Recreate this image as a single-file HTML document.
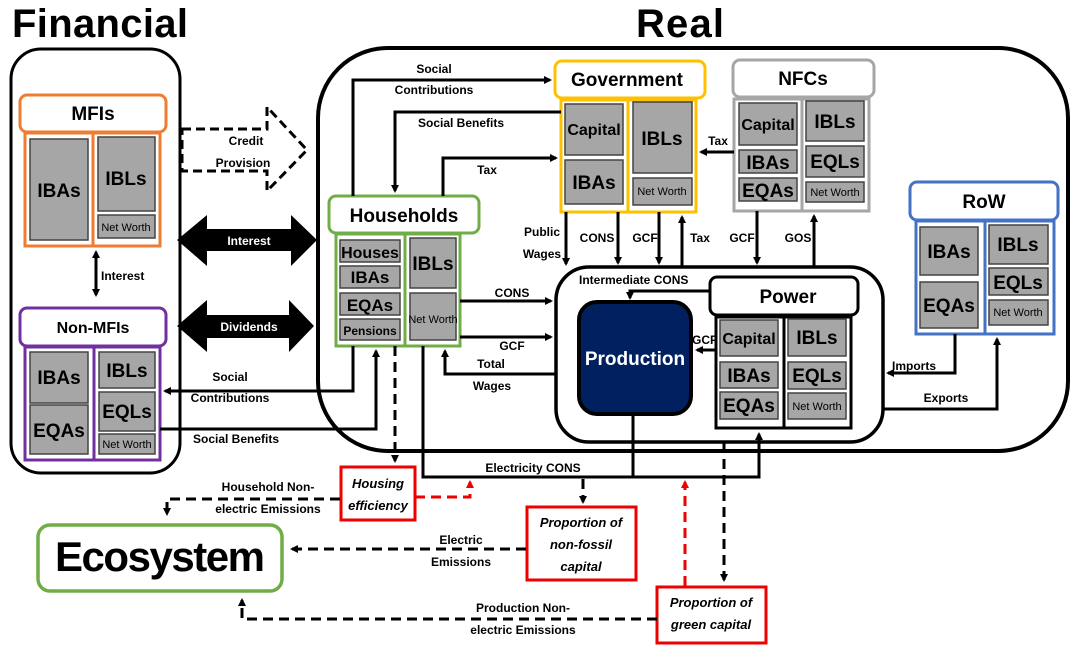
<!DOCTYPE html>
<html><head><meta charset="utf-8"><style>
html,body{margin:0;padding:0;background:#fff}
svg{display:block}
text{font-family:"Liberation Sans",sans-serif;font-weight:bold}
.g{fill:#a6a6a6;stroke:#444;stroke-width:1.5}
.l{stroke:#000;stroke-width:3;fill:none}
.d{stroke:#000;stroke-width:3;fill:none;stroke-dasharray:10,6}
.r{stroke:#e00;stroke-width:3;fill:none;stroke-dasharray:10,6}
.t{font-size:12px}
.bx{font-size:19px}
.nw{font-size:11px;font-weight:normal}
.it{font-style:italic;font-size:13px}
</style></head><body>
<svg width="1077" height="654" viewBox="0 0 1077 654" xmlns="http://www.w3.org/2000/svg">
<defs>
<marker id="a" markerWidth="8" markerHeight="8" refX="6" refY="4" orient="auto" markerUnits="userSpaceOnUse"><path d="M0,0 L8,4 L0,8 z" fill="#000"/></marker>
<marker id="ar" markerWidth="8" markerHeight="8" refX="6" refY="4" orient="auto" markerUnits="userSpaceOnUse"><path d="M0,0 L8,4 L0,8 z" fill="#e00"/></marker>
</defs>
<text x="12" y="37" font-size="40" textLength="176">Financial</text>
<text x="636" y="37" font-size="40" textLength="88">Real</text>
<rect x="11" y="49" width="169" height="424" rx="30" fill="none" stroke="#000" stroke-width="3"/>
<rect x="318" y="48" width="750" height="403" rx="70" fill="none" stroke="#000" stroke-width="4"/>

<!-- MFIs -->
<rect x="20" y="95" width="146" height="37" rx="7" fill="#fff" stroke="#ED7D31" stroke-width="3"/>
<text x="93" y="120" font-size="19" text-anchor="middle">MFIs</text>
<rect x="25" y="133" width="135" height="113" fill="none" stroke="#ED7D31" stroke-width="3"/>
<line x1="93" y1="133" x2="93" y2="246" stroke="#ED7D31" stroke-width="3"/>
<rect class="g" x="30" y="139" width="58" height="101"/><text class="bx" x="59" y="197" text-anchor="middle">IBAs</text>
<rect class="g" x="98" y="137" width="57" height="74"/><text class="bx" x="126" y="185" text-anchor="middle">IBLs</text>
<rect class="g" x="98" y="215" width="57" height="23"/><text class="nw" x="126" y="231" text-anchor="middle">Net Worth</text>
<line class="l" x1="96" y1="254" x2="96" y2="295" marker-end="url(#a)"/><line class="l" x1="96" y1="260" x2="96" y2="252" marker-end="url(#a)"/>
<text class="t" x="101" y="280">Interest</text>

<!-- Non-MFIs -->
<rect x="20" y="308" width="146" height="38" rx="7" fill="#fff" stroke="#7030A0" stroke-width="3"/>
<text x="93" y="333" font-size="16" text-anchor="middle">Non-MFIs</text>
<rect x="25" y="347" width="135" height="113" fill="none" stroke="#7030A0" stroke-width="3"/>
<line x1="94" y1="347" x2="94" y2="460" stroke="#7030A0" stroke-width="3"/>
<rect class="g" x="30" y="352" width="58" height="51"/><text class="bx" x="59" y="384" text-anchor="middle">IBAs</text>
<rect class="g" x="30" y="405" width="58" height="49"/><text class="bx" x="59" y="437" text-anchor="middle">EQAs</text>
<rect class="g" x="99" y="352" width="56" height="36"/><text class="bx" x="127" y="377" text-anchor="middle">IBLs</text>
<rect class="g" x="99" y="392" width="56" height="39"/><text class="bx" x="127" y="418" text-anchor="middle">EQLs</text>
<rect class="g" x="99" y="434" width="56" height="20"/><text class="nw" x="127" y="448" text-anchor="middle">Net Worth</text>

<!-- Credit provision -->
<path d="M182,129 L267,129 L267,107 L307,150 L267,191 L267,171 L182,171 Z" fill="none" stroke="#000" stroke-width="3" stroke-dasharray="9,5"/>
<text class="t" x="246" y="145" text-anchor="middle">Credit</text>
<text class="t" x="243" y="167" text-anchor="middle">Provision</text>
<!-- big arrows -->
<path d="M177,240 L207,215 L207,229 L291,229 L291,215 L317,240 L291,266 L291,251 L207,251 L207,266 Z" fill="#000"/>
<text x="249" y="245" font-size="12" fill="#fff" text-anchor="middle">Interest</text>
<path d="M177,326 L207,300 L207,315 L289,315 L289,300 L314,326 L289,352 L289,338 L207,338 L207,352 Z" fill="#000"/>
<text x="249" y="331" font-size="12" fill="#fff" text-anchor="middle">Dividends</text>

<!-- Households -->
<rect x="329" y="196" width="150" height="37" rx="7" fill="#fff" stroke="#70AD47" stroke-width="3"/>
<text x="404" y="222" font-size="19" text-anchor="middle">Households</text>
<rect x="336" y="234" width="124" height="112" fill="none" stroke="#70AD47" stroke-width="3"/>
<line x1="405" y1="234" x2="405" y2="346" stroke="#70AD47" stroke-width="3"/>
<rect class="g" x="340" y="240" width="60" height="22"/><text x="370" y="258" font-size="16" text-anchor="middle">Houses</text>
<rect class="g" x="340" y="266" width="60" height="22"/><text x="370" y="283" font-size="17" text-anchor="middle">IBAs</text>
<rect class="g" x="340" y="293" width="60" height="22"/><text x="370" y="311" font-size="17" text-anchor="middle">EQAs</text>
<rect class="g" x="340" y="319" width="60" height="21"/><text x="370" y="335" font-size="12" text-anchor="middle">Pensions</text>
<rect class="g" x="410" y="238" width="46" height="50"/><text class="bx" x="433" y="270" text-anchor="middle">IBLs</text>
<rect class="g" x="410" y="293" width="46" height="47"/><text class="nw" x="433" y="323" text-anchor="middle" font-size="10">Net Worth</text>

<!-- Government -->
<rect x="555" y="61" width="150" height="37" rx="7" fill="#fff" stroke="#FFC000" stroke-width="3"/>
<text x="627" y="86" font-size="19" text-anchor="middle">Government</text>
<rect x="561" y="100" width="135" height="112" fill="none" stroke="#FFC000" stroke-width="3"/>
<line x1="628" y1="100" x2="628" y2="212" stroke="#FFC000" stroke-width="3"/>
<rect class="g" x="565" y="104" width="58" height="51"/><text x="594" y="135" font-size="16" text-anchor="middle">Capital</text>
<rect class="g" x="565" y="160" width="58" height="44"/><text class="bx" x="594" y="189" text-anchor="middle">IBAs</text>
<rect class="g" x="633" y="102" width="59" height="71"/><text class="bx" x="662" y="145" text-anchor="middle">IBLs</text>
<rect class="g" x="633" y="178" width="59" height="27"/><text class="nw" x="662" y="195" text-anchor="middle">Net Worth</text>

<!-- NFCs -->
<rect x="733" y="60" width="141" height="37" rx="7" fill="#fff" stroke="#A6A6A6" stroke-width="3"/>
<text x="803" y="85" font-size="19" text-anchor="middle">NFCs</text>
<rect x="734" y="99" width="135" height="112" fill="none" stroke="#A6A6A6" stroke-width="3"/>
<line x1="802" y1="99" x2="802" y2="211" stroke="#A6A6A6" stroke-width="3"/>
<rect class="g" x="739" y="103" width="58" height="42"/><text x="768" y="130" font-size="16" text-anchor="middle">Capital</text>
<rect class="g" x="739" y="150" width="58" height="23"/><text class="bx" x="768" y="169" text-anchor="middle" font-size="17">IBAs</text>
<rect class="g" x="739" y="178" width="58" height="23"/><text class="bx" x="768" y="197" text-anchor="middle" font-size="17">EQAs</text>
<rect class="g" x="806" y="101" width="58" height="40"/><text class="bx" x="835" y="128" text-anchor="middle">IBLs</text>
<rect class="g" x="806" y="146" width="58" height="31"/><text class="bx" x="835" y="168" text-anchor="middle">EQLs</text>
<rect class="g" x="806" y="182" width="58" height="20"/><text class="nw" x="835" y="196" text-anchor="middle">Net Worth</text>

<!-- RoW -->
<rect x="910" y="182" width="148" height="38" rx="7" fill="#fff" stroke="#4472C4" stroke-width="3"/>
<text x="984" y="208" font-size="19" text-anchor="middle">RoW</text>
<rect x="916" y="221" width="138" height="113" fill="none" stroke="#4472C4" stroke-width="3"/>
<line x1="985" y1="221" x2="985" y2="334" stroke="#4472C4" stroke-width="3"/>
<rect class="g" x="920" y="227" width="58" height="48"/><text class="bx" x="949" y="258" text-anchor="middle">IBAs</text>
<rect class="g" x="920" y="282" width="58" height="46"/><text class="bx" x="949" y="312" text-anchor="middle">EQAs</text>
<rect class="g" x="989" y="225" width="59" height="39"/><text class="bx" x="1018" y="251" text-anchor="middle">IBLs</text>
<rect class="g" x="989" y="268" width="59" height="27"/><text class="bx" x="1018" y="289" text-anchor="middle">EQLs</text>
<rect class="g" x="989" y="300" width="59" height="25"/><text class="nw" x="1018" y="316" text-anchor="middle">Net Worth</text>

<!-- Production complex -->
<rect x="556" y="267" width="327" height="175" rx="33" fill="#fff" stroke="#000" stroke-width="3.5"/>
<rect x="579" y="302" width="112" height="112" rx="18" fill="#002060" stroke="#000" stroke-width="4"/>
<text x="635" y="365" font-size="19" fill="#fff" text-anchor="middle">Production</text>
<rect x="710" y="277" width="148" height="38" rx="7" fill="#fff" stroke="#000" stroke-width="3"/>
<text x="788" y="303" font-size="19" text-anchor="middle">Power</text>
<rect x="716" y="317" width="135" height="111" fill="#fff" stroke="#000" stroke-width="3"/>
<line x1="784" y1="317" x2="784" y2="428" stroke="#000" stroke-width="3"/>
<rect class="g" x="720" y="320" width="58" height="36"/><text x="749" y="344" font-size="16" text-anchor="middle">Capital</text>
<rect class="g" x="720" y="362" width="58" height="26"/><text class="bx" x="749" y="382" text-anchor="middle" font-size="18">IBAs</text>
<rect class="g" x="720" y="392" width="58" height="27"/><text class="bx" x="749" y="412" text-anchor="middle" font-size="18">EQAs</text>
<rect class="g" x="788" y="319" width="58" height="37"/><text class="bx" x="817" y="344" text-anchor="middle">IBLs</text>
<rect class="g" x="788" y="362" width="58" height="27"/><text class="bx" x="817" y="382" text-anchor="middle" font-size="18">EQLs</text>
<rect class="g" x="788" y="393" width="58" height="26"/><text class="nw" x="817" y="410" text-anchor="middle">Net Worth</text>
<text class="t" x="579" y="284">Intermediate CONS</text>
<polyline class="l" points="710,291 630,291 630,298" marker-end="url(#a)"/>
<line class="l" x1="716" y1="350" x2="697" y2="350" marker-end="url(#a)"/>
<text class="t" x="692" y="344">GCF</text>

<!-- Gov/NFC/Prod connectors -->
<line class="l" x1="566" y1="212" x2="566" y2="264" marker-end="url(#a)"/>
<text class="t" x="542" y="236" text-anchor="middle">Public</text>
<text class="t" x="542" y="258" text-anchor="middle">Wages</text>
<line class="l" x1="618" y1="212" x2="618" y2="263" marker-end="url(#a)"/><text class="t" x="597" y="242" text-anchor="middle">CONS</text>
<line class="l" x1="659" y1="212" x2="659" y2="263" marker-end="url(#a)"/><text class="t" x="645" y="242" text-anchor="middle">GCF</text>
<line class="l" x1="682" y1="267" x2="682" y2="217" marker-end="url(#a)"/><text class="t" x="700" y="242" text-anchor="middle">Tax</text>
<line class="l" x1="757" y1="211" x2="757" y2="263" marker-end="url(#a)"/><text class="t" x="742" y="242" text-anchor="middle">GCF</text>
<line class="l" x1="814" y1="267" x2="814" y2="216" marker-end="url(#a)"/><text class="t" x="798" y="242" text-anchor="middle">GOS</text>
<line class="l" x1="734" y1="152" x2="701" y2="152" marker-end="url(#a)"/><text class="t" x="718" y="145" text-anchor="middle">Tax</text>
<!-- RoW connectors -->
<polyline class="l" points="955,334 955,373 888,373" marker-end="url(#a)"/><text class="t" x="914" y="370" text-anchor="middle">Imports</text>
<polyline class="l" points="883,409 997,409 997,339" marker-end="url(#a)"/><text class="t" x="946" y="402" text-anchor="middle">Exports</text>

<!-- Household connectors -->
<polyline class="l" points="353,196 353,80 550,80" marker-end="url(#a)"/>
<text class="t" x="434" y="73" text-anchor="middle">Social</text>
<text class="t" x="434" y="94" text-anchor="middle">Contributions</text>
<polyline class="l" points="561,112 395,112 395,191" marker-end="url(#a)"/>
<text class="t" x="461" y="127" text-anchor="middle">Social Benefits</text>
<polyline class="l" points="443,196 443,158 556,158" marker-end="url(#a)"/>
<text class="t" x="487" y="174" text-anchor="middle">Tax</text>
<line class="l" x1="460" y1="301" x2="551" y2="301" marker-end="url(#a)"/><text class="t" x="512" y="297" text-anchor="middle">CONS</text>
<line class="l" x1="460" y1="337" x2="551" y2="337" marker-end="url(#a)"/><text class="t" x="512" y="350" text-anchor="middle">GCF</text>
<polyline class="l" points="556,374 445,374 445,351" marker-end="url(#a)"/>
<text class="t" x="491" y="368" text-anchor="middle">Total</text>
<text class="t" x="492" y="390" text-anchor="middle">Wages</text>
<polyline class="l" points="353,346 353,391 165,391" marker-end="url(#a)"/>
<text class="t" x="230" y="381" text-anchor="middle">Social</text>
<text class="t" x="230" y="402" text-anchor="middle">Contributions</text>
<polyline class="l" points="160,429 376,429 376,351" marker-end="url(#a)"/>
<text class="t" x="236" y="443" text-anchor="middle">Social Benefits</text>

<!-- Electricity -->
<polyline class="l" points="423,346 423,477 759,477 759,434" marker-end="url(#a)"/>
<line class="l" x1="633" y1="415" x2="633" y2="477"/>
<text class="t" x="533" y="472" text-anchor="middle">Electricity CONS</text>
<line class="d" x1="583" y1="479" x2="583" y2="502" marker-end="url(#a)"/>
<line class="d" x1="724" y1="443" x2="724" y2="580" marker-end="url(#a)"/>
<line class="d" x1="395" y1="346" x2="395" y2="461" marker-end="url(#a)"/>
<polyline class="r" points="415,497 470,497 470,482" marker-end="url(#ar)"/>
<line class="r" x1="685" y1="586" x2="685" y2="482" marker-end="url(#ar)"/>

<!-- red boxes -->
<rect x="341" y="467" width="74" height="53" fill="#fff" stroke="#e00" stroke-width="3"/>
<text class="it" x="378" y="488" text-anchor="middle">Housing</text>
<text class="it" x="378" y="510" text-anchor="middle">efficiency</text>
<rect x="527" y="507" width="109" height="73" fill="#fff" stroke="#e00" stroke-width="3"/>
<text class="it" x="581" y="527" text-anchor="middle">Proportion of</text>
<text class="it" x="581" y="549" text-anchor="middle">non-fossil</text>
<text class="it" x="581" y="571" text-anchor="middle">capital</text>
<rect x="657" y="587" width="109" height="56" fill="#fff" stroke="#e00" stroke-width="3"/>
<text class="it" x="711" y="607" text-anchor="middle">Proportion of</text>
<text class="it" x="711" y="629" text-anchor="middle">green capital</text>

<!-- Ecosystem -->
<rect x="38" y="525" width="244" height="66" rx="12" fill="#fff" stroke="#70AD47" stroke-width="3.5"/>
<text x="160" y="571" font-size="42" text-anchor="middle" textLength="210">Ecosystem</text>
<polyline class="d" points="340,499 167,499 167,514" marker-end="url(#a)"/>
<text class="t" x="268" y="491" text-anchor="middle">Household Non-</text>
<text class="t" x="268" y="513" text-anchor="middle">electric Emissions</text>
<line class="d" x1="526" y1="549" x2="292" y2="549" marker-end="url(#a)"/>
<text class="t" x="461" y="544" text-anchor="middle">Electric</text>
<text class="t" x="461" y="566" text-anchor="middle">Emissions</text>
<polyline class="d" points="657,619 242,619 242,600" marker-end="url(#a)"/>
<text class="t" x="523" y="612" text-anchor="middle">Production Non-</text>
<text class="t" x="523" y="634" text-anchor="middle">electric Emissions</text>
</svg>
</body></html>
